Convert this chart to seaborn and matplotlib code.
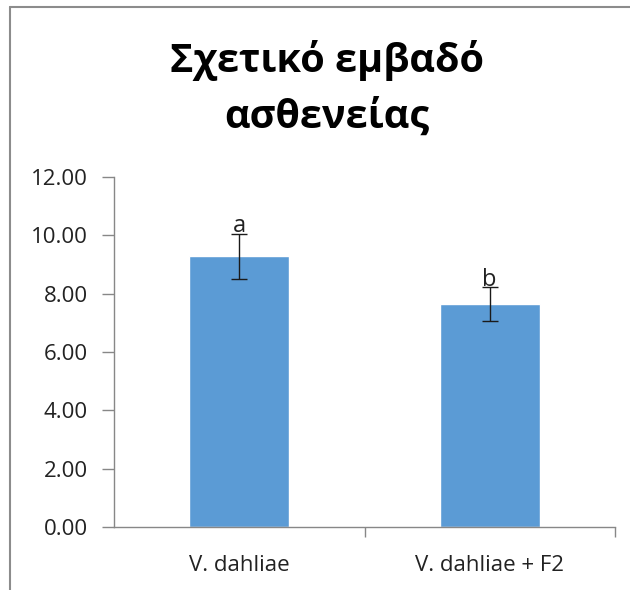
import matplotlib
matplotlib.use("Agg")
import matplotlib.pyplot as plt
import seaborn as sns
from matplotlib.lines import Line2D
from matplotlib.ticker import FixedLocator

categories = ["V. dahliae", "V. dahliae + F2"]
values = [9.28, 7.65]
errors = [0.78, 0.58]
letters = ["a", "b"]
yticks = [0, 2, 4, 6, 8, 10, 12]
title = "Σχετικό εμβαδό\nασθενείας"

sns.set_theme(style="white")
plt.rcParams["font.family"] = ["Open Sans", "Noto Sans", "DejaVu Sans"]

fig = plt.figure(figsize=(6.3, 5.9), dpi=100)
ax = fig.add_axes([114/630, 1-527/590, (615-114)/630, (527-177)/590])

sns.barplot(x=categories, y=values, color="#5B9BD5", saturation=1,
            width=0.4, errorbar=None, ax=ax)
ax.errorbar(categories, values, yerr=errors, fmt="none", ecolor="#1a1a1a",
            elinewidth=1.0, capsize=6, capthick=1.0)
for c, v, e, l in zip(categories, values, errors, letters):
    ax.annotate(l, (c, v + e), xytext=(0, -3.5), textcoords="offset points",
                ha="center", va="bottom", fontsize=17, color="#222222")

ax.set_ylim(0, 12)
ax.set_xlim(-0.5, 1.5)
ax.set_yticks(yticks)
ax.set_yticklabels([f"{t:.2f}" for t in yticks])
ax.set_xlabel("")
ax.set_ylabel("")

for s in ["top", "right"]:
    ax.spines[s].set_visible(False)
for s in ["left", "bottom"]:
    ax.spines[s].set_color("#878787")
    ax.spines[s].set_linewidth(1.0)

ax.tick_params(axis="y", which="major", direction="out", length=9, width=1,
               color="#878787", labelsize=16, labelcolor="#222222", pad=10, left=True)
ax.tick_params(axis="x", which="major", length=0, labelsize=16,
               labelcolor="#222222", pad=20)
ax.xaxis.set_minor_locator(FixedLocator([0.5, 1.5]))
ax.tick_params(axis="x", which="minor", direction="out", length=7, width=1,
               color="#878787", bottom=True)

fig.text(327/630, 1-88/590, title, ha="center", va="center", fontsize=28.5,
         fontweight="bold", color="black", linespacing=1.55)

# outer chart frame
fig.add_artist(Line2D([10/630, 10/630], [0, 1-7/590], transform=fig.transFigure,
                      color="#8c8c8c", linewidth=1.5))
fig.add_artist(Line2D([10/630, 1], [1-7/590, 1-7/590], transform=fig.transFigure,
                      color="#8c8c8c", linewidth=1.5))

fig.savefig("out.png", dpi=100)
